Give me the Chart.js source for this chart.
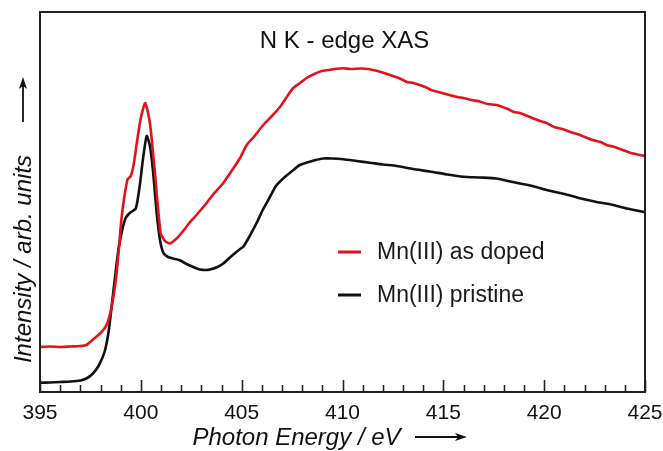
<!DOCTYPE html>
<html><head><meta charset="utf-8">
<script src="https://cdn.jsdelivr.net/npm/chart.js@4/dist/chart.umd.min.js"></script>
<style>html,body{margin:0;padding:0;background:#fff}#wrap{width:663px;height:451px}</style>
</head><body><div id="wrap"><canvas id="c" width="663" height="451"></canvas></div>
<script>
// Photon energy (eV) and intensity (arb. units)
const chartTitle = "N K - edge XAS";
const xAxisTitle = "Photon Energy / eV";
const yAxisTitle = "Intensity / arb. units";
const seriesNames = ["Mn(III) as doped", "Mn(III) pristine"];
const xTicks = [395, 400, 405, 410, 415, 420, 425];

const energyDoped = [395.0,395.5,396.0,396.5,397.0,397.3,397.6,398.0,398.3,398.55,398.8,399.05,399.33,399.5,399.65,399.8,400.0,400.22,400.45,400.7,400.98,401.2,401.45,401.8,402.1,402.44,402.8,403.26,403.6,404.09,404.5,404.92,405.25,405.6,406.07,406.5,406.9,407.2,407.56,407.9,408.22,408.6,408.97,409.3,409.6,410.04,410.4,410.9,411.36,411.9,412.36,412.9,413.2,413.51,414.1,414.4,414.67,415.3,415.7,415.99,416.4,416.8,417.2,417.64,418.2,418.5,418.8,419.4,419.8,420.12,420.5,420.9,421.3,421.77,422.4,422.8,423.1,423.5,423.9,424.3,424.75,425.0];
const intensityDoped = [45,45.5,45,45.5,46,47,52,59,67,85,119,175,212,216,228,249,274,289,269,219,159,151,148.5,154,161,170,178,189,198,209,221,234,247,255,267,276,285,294,304,309,314,318,321,322,323,323.7,323,323.5,322.7,320,317,313,310,309,305,302,300.5,297,295,294,292,290.5,288,287,283,280,279,274,271,269,265,263,260,257,252,250,247,245,242,239,237,236];

const energyPristine = [395.0,395.5,396.0,396.5,397.0,397.3,397.6,397.9,398.2,398.4,398.55,398.75,398.9,399.1,399.25,399.45,399.75,399.95,400.1,400.29,400.45,400.6,400.78,400.95,401.12,401.35,401.6,401.9,402.27,402.6,402.93,403.2,403.43,403.8,404.09,404.5,404.92,405.08,405.4,405.74,406.07,406.4,406.7,407.06,407.5,407.89,408.5,409.05,409.5,410.04,410.7,411.36,412.0,412.69,413.5,414.34,415.2,415.99,416.8,417.64,418.2,418.8,419.5,420.12,421.0,421.77,422.6,423.43,424.1,424.83,425.0];
const intensityPristine = [9.3,9.5,10,10.5,11.5,13.5,18,26,40,60,85,120,144,164,174,179,183.5,207,232,256,246,222,180,152,139,135,133.5,132,128,125,122.5,122,122.5,125,128.5,136,143,145.3,156,169,183,195,206,213.5,221,227,231,233.5,233.5,232.7,231,229.3,227.5,226,223,220.5,217.5,215.3,214.5,213.5,211,208.5,205.5,202,198,193.7,190,187,183.5,180.5,180];

function toXY(xs, ys){ return xs.map((x,i)=>({x:x, y:ys[i]})); }

const FONT = "'Liberation Sans', Arial, Helvetica, sans-serif";

const decor = {
  id: 'decor',
  afterDraw(chart){
    const {ctx, chartArea:a, scales:{x}} = chart;
    ctx.save();
    // frame
    ctx.strokeStyle = '#222'; ctx.lineWidth = 2;
    ctx.strokeRect(a.left, a.top, a.right - a.left, a.bottom - a.top);
    // inward ticks
    ctx.lineWidth = 1.6;
    for (let v = x.min; v <= x.max; v += 1) {
      const px = Math.round(x.getPixelForValue(v)) + 0.5;
      const len = (v % 5 === 0) ? 12 : 7;
      ctx.beginPath(); ctx.moveTo(px, a.bottom); ctx.lineTo(px, a.bottom - len); ctx.stroke();
    }
    // chart title
    ctx.fillStyle = '#111';
    ctx.font = '24px ' + FONT;
    ctx.textAlign = 'center'; ctx.textBaseline = 'middle';
    ctx.fillText(chartTitle, 344.5, 41);
    // legend
    const ds = chart.data.datasets;
    const legY = [252, 295];
    ds.forEach((d, i) => {
      ctx.strokeStyle = d.borderColor; ctx.lineWidth = 3;
      ctx.beginPath(); ctx.moveTo(338, legY[i]); ctx.lineTo(361, legY[i]); ctx.stroke();
      ctx.fillStyle = '#1a1a1a'; ctx.font = '23px ' + FONT;
      ctx.textAlign = 'left'; ctx.textBaseline = 'middle';
      ctx.fillText(d.label, 377, legY[i] + 1);
    });
    // x axis title + arrow
    ctx.fillStyle = '#111'; ctx.font = 'italic 24px ' + FONT;
    ctx.textAlign = 'center'; ctx.textBaseline = 'middle';
    ctx.fillText(xAxisTitle, 296.5, 438);
    drawArrow(ctx, 415, 437, 467, 437);
    // y axis title + arrow
    ctx.save();
    ctx.translate(24, 259); ctx.rotate(-Math.PI/2);
    ctx.fillText(yAxisTitle, 0, 0);
    ctx.restore();
    drawArrow(ctx, 23, 122, 23, 77);
    ctx.restore();
  }
};

function drawArrow(ctx, x1, y1, x2, y2){
  const ang = Math.atan2(y2 - y1, x2 - x1);
  ctx.strokeStyle = '#111'; ctx.fillStyle = '#111'; ctx.lineWidth = 1.8;
  ctx.beginPath(); ctx.moveTo(x1, y1);
  ctx.lineTo(x2 - 6*Math.cos(ang), y2 - 6*Math.sin(ang)); ctx.stroke();
  const hl = 12, hw = 4;
  ctx.beginPath();
  ctx.moveTo(x2, y2);
  ctx.lineTo(x2 - hl*Math.cos(ang) + hw*Math.sin(ang), y2 - hl*Math.sin(ang) - hw*Math.cos(ang));
  ctx.lineTo(x2 - (hl-3)*Math.cos(ang), y2 - (hl-3)*Math.sin(ang));
  ctx.lineTo(x2 - hl*Math.cos(ang) - hw*Math.sin(ang), y2 - hl*Math.sin(ang) + hw*Math.cos(ang));
  ctx.closePath(); ctx.fill();
}

new Chart(document.getElementById('c'), {
  type: 'line',
  data: {
    datasets: [
      { label: seriesNames[0], data: toXY(energyDoped, intensityDoped), borderColor: '#e3121b', borderWidth: 2.6, pointRadius: 0, tension: 0.2, fill: false },
      { label: seriesNames[1], data: toXY(energyPristine, intensityPristine), borderColor: '#111111', borderWidth: 2.6, pointRadius: 0, tension: 0.2, fill: false }
    ]
  },
  options: {
    responsive: false, devicePixelRatio: 1, animation: false,
    layout: { padding: { left: 0, right: 18, top: 12, bottom: 0 } },
    plugins: { legend: { display: false }, tooltip: { enabled: false }, title: { display: false } },
    scales: {
      x: {
        type: 'linear', min: 395, max: 425,
        afterBuildTicks: (s) => { s.ticks = xTicks.map(v => ({ value: v })); },
        afterFit: (s) => { s.height = 59; s.paddingLeft = 0; s.paddingRight = 0; },
        grid: { display: false, drawTicks: false },
        border: { display: false },
        ticks: { padding: 9, color: '#111', font: { family: FONT, size: 21 }, maxRotation: 0, autoSkip: false }
      },
      y: {
        type: 'linear', min: 0, max: 380,
        afterFit: (s) => { s.width = 40; s.paddingTop = 0; s.paddingBottom = 0; },
        grid: { display: false, drawTicks: false },
        border: { display: false },
        ticks: { display: false }
      }
    }
  },
  plugins: [decor]
});
</script>
</body></html>
